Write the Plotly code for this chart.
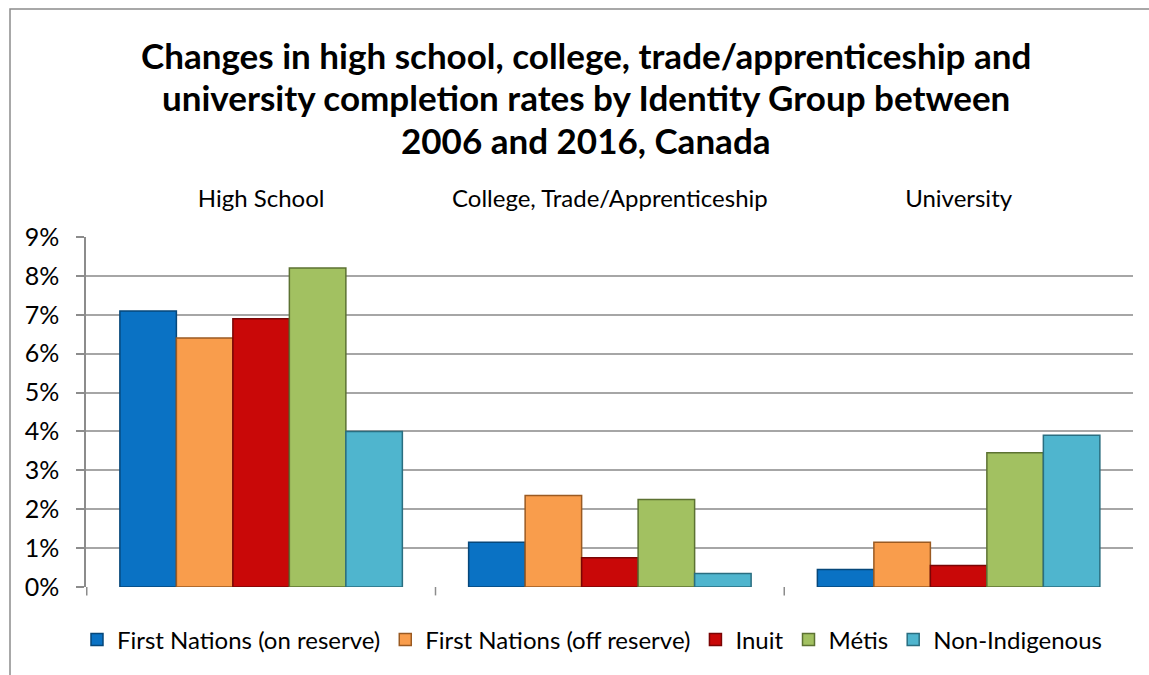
import plotly.graph_objects as go

categories = ["High School", "College, Trade/Apprenticeship", "University"]
series_names = ["First Nations (on reserve)", "First Nations (off reserve)", "Inuit", "Métis", "Non-Indigenous"]
fn_on_reserve = [0.071, 0.0115, 0.0045]
fn_off_reserve = [0.064, 0.0235, 0.0115]
inuit = [0.069, 0.0075, 0.0055]
metis = [0.082, 0.0225, 0.0345]
non_indigenous = [0.040, 0.0035, 0.039]
y_ticks = [0, 0.01, 0.02, 0.03, 0.04, 0.05, 0.06, 0.07, 0.08, 0.09]
title_lines = [
    "Changes in high school, college, trade/apprenticeship and",
    "university completion rates by Identity Group between",
    "2006 and 2016, Canada",
]

colors = ["#0A72C4", "#F99D4C", "#C90808", "#A2C161", "#4FB5CE"]
edges = ["#06477A", "#9A5A22", "#7A0505", "#5C7232", "#2A6E80"]
series_values = [fn_on_reserve, fn_off_reserve, inuit, metis, non_indigenous]

FONT = "Lato"
PLOT_H = 350.0
PLOT_W = 1047.0

fig = go.Figure()
for name, vals, c, e in zip(series_names, series_values, colors, edges):
    fig.add_trace(go.Bar(
        name=name, x=categories, y=vals,
        marker=dict(color=c, line=dict(color=e, width=1.5)),
    ))

shapes = []
# chart-area border
shapes.append(dict(type="rect", xref="paper", yref="paper",
                   x0=(10 - 86) / PLOT_W, x1=1.2, y0=-0.5, y1=(587 - 9) / PLOT_H,
                   line=dict(color="#8C8C8C", width=1.5), fillcolor="rgba(0,0,0,0)", layer="below"))
# category boundary tick marks below the axis
for b in [-0.5, 0.5, 1.5]:
    shapes.append(dict(type="line", xref="x", yref="paper", x0=b, x1=b, y0=0, y1=-0.024,
                       line=dict(color="#8C8C8C", width=1.5)))

annotations = []
for line, py in zip(title_lines, [55, 97, 140]):
    annotations.append(dict(text="<b>" + line + "</b>", xref="paper", yref="paper",
                            x=(586 - 86) / PLOT_W, y=(587 - py) / PLOT_H,
                            xanchor="center", yanchor="middle", showarrow=False,
                            font=dict(family=FONT, size=35, color="black")))

fig.update_layout(
    width=1149, height=675,
    margin=dict(l=86, r=16, t=237, b=88),
    paper_bgcolor="white", plot_bgcolor="white",
    font=dict(family=FONT, color="black"),
    barmode="group", bargap=0.19, bargroupgap=0,
    xaxis=dict(side="top", ticks="", showline=False, showgrid=False,
               tickfont=dict(family=FONT, size=24, color="black"),
               ticklabelstandoff=24),
    yaxis=dict(range=[0, 0.09], tickvals=y_ticks, tickformat=".0%",
               showgrid=True, gridcolor="#A6A6A6", gridwidth=1.5,
               showline=True, linecolor="#8C8C8C", linewidth=1.5,
               ticks="outside", ticklen=8, tickcolor="#8C8C8C", tickwidth=1.5,
               tickfont=dict(family=FONT, size=25, color="black"),
               ticklabelstandoff=12, zeroline=False),
    legend=dict(orientation="h", x=(592 - 86) / PLOT_W, xanchor="center",
                y=(587 - 640) / PLOT_H, yanchor="middle",
                font=dict(family=FONT, size=24, color="black"),
                itemwidth=30, traceorder="normal"),
    shapes=shapes,
    annotations=annotations,
)

fig.write_html("out.html", config={"displayModeBar": False},
               post_script="document.body.style.margin='0';")
